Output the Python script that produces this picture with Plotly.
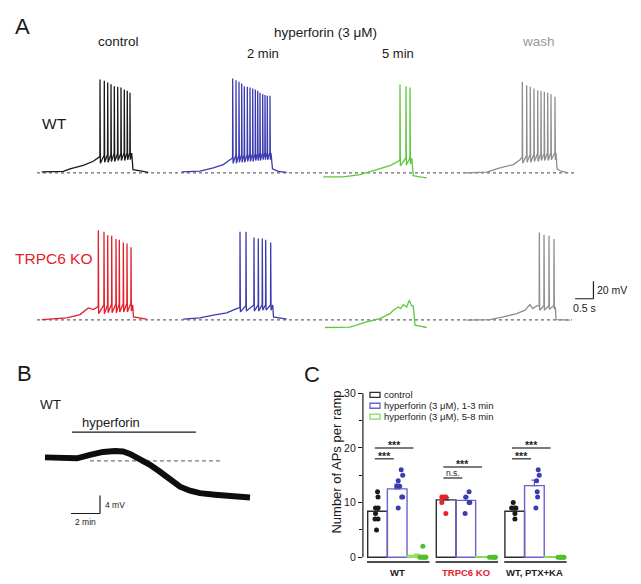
import plotly.graph_objects as go

W, H = 641, 584          # target picture size (px)
OX, OY = 8, 8            # page body margin in the browser
FW, FH = W - OX, H - OY  # figure size so the figure exactly fills the window
FONT = "Liberation Sans, Arial, sans-serif"

# ===================== DATA =====================
# ---- Panel A: ramp-evoked firing (time in s from sweep start, Vm in mV) ----
wt_ctrl_pre_t = [0.046, 0.635, 0.817, 1.180, 1.452, 1.616]
wt_ctrl_pre_v = [-68.9, -68.3, -65.5, -61.5, -56.8, -51.9]
wt_ctrl_spk_t = [1.635, 1.752, 1.845, 1.935, 2.025, 2.117, 2.207, 2.297, 2.378, 2.452]
wt_ctrl_spk_peak = [36.2, 34.7, 32.8, 30.9, 28.6, 28.0, 27.2, 24.9, 23.4, 21.2]
wt_ctrl_spk_thr = [-51.5, -50, -49, -49, -48, -48, -48, -47, -47, -47]
wt_ctrl_spk_ahp = [-59, -58, -58, -57, -57, -56, -56, -56, -55, -55]
wt_ctrl_post_t = [2.499, 2.534, 2.771, 2.951]
wt_ctrl_post_v = [-47.4, -66.3, -68.1, -69.4]

wt_h2_pre_t = [0.019, 0.518, 0.880, 1.153, 1.335]
wt_h2_pre_v = [-68.9, -68.1, -64.4, -60.6, -55.0]
wt_h2_spk_t = [1.409, 1.499, 1.580, 1.654, 1.725, 1.807, 1.880, 1.954, 2.025, 2.090,
               2.153, 2.226, 2.289, 2.351, 2.425]
wt_h2_spk_peak = [37.3, 35.4, 33.6, 31.7, 28.6, 28.0, 27.2, 26.0, 24.9, 23.4,
                  21.2, 19.6, 18.5, 17.8, 17.8]
wt_h2_spk_thr = [-53, -50, -50, -49, -49, -49, -48, -48, -48, -48, -47, -47, -47, -47, -47]
wt_h2_spk_ahp = [-59, -59, -58, -58, -58, -57, -57, -57, -56, -56, -56, -55, -55, -55, -55]
wt_h2_post_t = [2.452, 2.493, 2.651, 2.880]
wt_h2_post_v = [-47.4, -65.5, -68.3, -69.4]

wt_h5_pre_t = [0.008, 0.553, 1.008, 1.463, 1.826, 2.052]
wt_h5_pre_v = [-74.5, -74.5, -71.9, -66.3, -61.8, -56.8]
wt_h5_spk_t = [2.098, 2.262, 2.371]
wt_h5_spk_peak = [30.6, 28.6, 27.2]
wt_h5_spk_thr = [-55, -53, -53]
wt_h5_spk_ahp = [-62, -61, -60]
wt_h5_post_t = [2.417, 2.460, 2.643, 2.826]
wt_h5_post_v = [-53.1, -73.1, -74.5, -75.6]

wt_wash_pre_t = [0.0, 0.591, 0.954, 1.316, 1.499]
wt_wash_pre_v = [-70.0, -69.2, -64.4, -60.6, -55.0]
wt_wash_spk_t = [1.562, 1.681, 1.779, 1.880, 1.981, 2.071, 2.161, 2.253, 2.343, 2.452]
wt_wash_spk_peak = [33.6, 29.8, 28.0, 26.0, 24.1, 23.4, 22.3, 21.2, 19.6, 16.7]
wt_wash_spk_thr = [-52, -50, -49, -49, -48, -48, -48, -47, -47, -47]
wt_wash_spk_ahp = [-59, -58, -58, -57, -57, -56, -56, -56, -55, -55]
wt_wash_post_t = [2.480, 2.507, 2.616, 2.815]
wt_wash_post_v = [-47.4, -65.5, -68.1, -70.0]

ko_ctrl_pre_t = [0.046, 0.728, 1.090, 1.316, 1.452, 1.572]
ko_ctrl_pre_v = [-69.7, -67.7, -64.0, -56.4, -58.4, -55.3]
ko_ctrl_spk_t = [1.589, 1.744, 1.845, 1.954, 2.071, 2.161, 2.270, 2.371, 2.480]
ko_ctrl_spk_peak = [32.0, 30.2, 26.4, 25.7, 21.9, 21.2, 18.1, 17.0, 12.5]
ko_ctrl_spk_thr = [-55, -53, -53, -52, -52, -52, -52, -51, -51]
ko_ctrl_spk_ahp = [-63, -63, -62, -62, -62, -61, -61, -61, -60]
ko_ctrl_post_t = [2.526, 2.548, 2.907]
ko_ctrl_post_v = [-53.1, -66.6, -69.2]

ko_h2_pre_t = [0.063, 0.518, 0.880, 1.245, 1.518]
ko_h2_pre_v = [-69.2, -67.7, -64.7, -62.1, -57.2]
ko_h2_spk_t = [1.608, 1.771, 1.989, 2.106, 2.215, 2.308, 2.444]
ko_h2_spk_peak = [30.2, 30.2, 23.8, 22.7, 22.7, 21.2, 18.1]
ko_h2_spk_thr = [-56, -54, -53, -53, -53, -53, -53]
ko_h2_spk_ahp = [-61, -60, -60, -60, -59, -59, -59]
ko_h2_post_t = [2.499, 2.520, 2.880]
ko_h2_post_v = [-53.1, -66.6, -69.2]

ko_h5_pre_t = [0.054, 0.736, 1.191, 1.553, 1.826, 1.916, 2.052, 2.117, 2.188, 2.281,
               2.352, 2.417, 2.460, 2.507, 2.643, 2.826]
ko_h5_pre_v = [-78.7, -78.2, -72.3, -68.5, -62.9, -59.0, -55.3, -57.2, -52.7, -55.3,
               -47.7, -54.2, -54.2, -76.0, -77.1, -78.7]

ko_wash_pre_t = [0.046, 0.681, 1.044, 1.409, 1.635, 1.771, 1.845, 1.954]
ko_wash_pre_v = [-70.3, -69.7, -66.6, -62.9, -59.0, -52.7, -57.2, -54.2]
ko_wash_spk_t = [2.025, 2.153, 2.289, 2.425]
ko_wash_spk_peak = [29.4, 26.8, 25.7, 21.9]
ko_wash_spk_thr = [-54, -54, -54, -54]
ko_wash_spk_ahp = [-59, -59, -58, -58]
ko_wash_post_t = [2.461, 2.480, 2.861]
ko_wash_post_v = [-55.3, -69.7, -70.3]

a_rest_mv = -70.0

# ---- Panel B: slow Vm recording (time in min, Vm in mV) ----
b_t = [0.0, 1.034, 2.207, 3.103, 4.0, 4.828, 5.379, 5.862, 6.552, 7.241, 7.931,
       8.828, 9.310, 10.0, 10.690, 11.724, 12.966, 14.138]
b_v = [-59.22, -59.44, -59.44, -58.67, -58.0, -57.78, -57.89, -58.44, -59.56, -60.89,
       -62.44, -64.44, -65.78, -66.67, -67.22, -67.56, -67.89, -68.22]
b_hyperforin_min = [1.86, 10.41]
b_baseline_mv = -60.0
b_baseline_span = [3.10, 12.21]

# ---- Panel C: number of APs per ramp ----
c_groups = ["WT", "TRPC6 KO", "WT, PTX+KA"]
c_conditions = ["control", "hyperforin (3 \u03bcM), 1-3 min", "hyperforin (3 \u03bcM), 5-8 min"]
c_mean_ctrl = [8.4, 10.5, 8.4]
c_mean_h13 = [12.5, 10.4, 13.1]
c_mean_h58 = [0.3, 0.1, 0.1]
c_sem_ctrl = [0.8, 0.4, 0.45]
c_sem_h13 = [0.9, 0.6, 1.0]
c_sem_h58 = [0.25, 0.0, 0.0]

dots_ctrl_wt = [12, 11, 9, 9, 8, 7, 7, 5]
dots_h13_wt = [16, 15, 14, 13, 13, 11, 11, 9]
dots_h58_wt = [2, 0, 0, 0, 0, 0]
dots_ctrl_ko = [11, 11, 11, 10, 8]
dots_h13_ko = [12, 11, 10, 10, 8]
dots_h58_ko = [0, 0, 0, 0, 0]
dots_ctrl_ptx = [10, 9, 9, 9, 8, 7]
dots_h13_ptx = [16, 15, 14, 12, 11, 9]
dots_h58_ptx = [0, 0, 0, 0, 0, 0]

sig_group = [0, 0, 1, 1, 2, 2]
sig_to = [1, 2, 1, 2, 1, 2]
sig_y = [18, 20, 14.5, 16.5, 18, 20]
sig_label = ["***", "***", "n.s.", "***", "***", "***"]

# ===================== STYLE / LAYOUT =====================
BLACK = "#1a1a1a"
BLUE_A = "#3b3bb0"
GREEN_A = "#5cc83a"
GRAY_A = "#8e8e8e"
RED_A = "#e41e2b"
C_CTRL = "#2e2e2e"
C_BLUE = "#6a60d4"
C_BLUE_DOT = "#3c3cb2"
C_GREEN = "#86da5c"
C_GREEN_DOT = "#52be2c"
C_RED = "#e8202a"

# jitter of the dots (horizontal pixel offsets, purely visual)
jit_ctrl_wt = [0, 0.5, -2, 0.5, -2, 0.5, -2.5, -1]
jit_h13_wt = [4, 5.5, 1, -0.5, 2.5, 5.5, 4.5, 1]
jit_h58_wt = [6, 3, 5, 7, 8, 9]
jit_ctrl_ko = [-4.3, -2, -0.3, -4.3, -0.3]
jit_h13_ko = [3.3, 0, 3.3, 4, -0.7]
jit_h58_ko = [4, 6, 8, 9, 10]
jit_ctrl_ptx = [-1.5, -0.8, -3.1, 1.2, 0.2, 0.2]
jit_h13_ptx = [3.8, 4.8, 2.2, 2.8, 3.2, 1.5]
jit_h58_ptx = [4, 6, 7, 8, 9, 10]


def pxx(px):
    return (px - OX) / FW


def pxy(py):
    return 1 - (py - OY) / FH


def xdom(p0, p1):
    return [pxx(p0), pxx(p1)]


def ydom(top, bottom):
    return [pxy(bottom), pxy(top)]


fig = go.Figure()
shapes, anns = [], []


def ann(text, px, py, size, color="#1a1a1a", bold=False, **kw):
    d = dict(text=f"<b>{text}</b>" if bold else text, x=pxx(px), y=pxy(py),
             xref="paper", yref="paper", showarrow=False, xanchor="center",
             yanchor="middle", font=dict(size=size, color=color, family=FONT))
    d.update(kw)
    anns.append(d)


# ---------- Panel A axes ----------
A_PX_PER_S = 36.7
A_PX_PER_MV = 0.885
A_VRANGE = [-80, 45]
A_COL_LEFT = [40, 181, 323, 465]
A_COL_TMAX = [3.0, 3.0, 3.0, 3.6]
A_ROW_REST_PY = [170, 318]
layout_axes = {}
for i, (left, tmax) in enumerate(zip(A_COL_LEFT, A_COL_TMAX)):
    name = "xaxis" if i == 0 else f"xaxis{i + 1}"
    layout_axes[name] = dict(domain=xdom(left, left + tmax * A_PX_PER_S), range=[0, tmax],
                             visible=False, anchor="y")
for r, rest in enumerate(A_ROW_REST_PY):
    name = "yaxis" if r == 0 else "yaxis2"
    top = rest - (A_VRANGE[1] - a_rest_mv) * A_PX_PER_MV
    bot = rest + (a_rest_mv - A_VRANGE[0]) * A_PX_PER_MV
    layout_axes[name] = dict(domain=ydom(top, bot), range=A_VRANGE, visible=False, anchor="x")

UP, DOWN = 0.004, 0.010


def sweep(pre_t, pre_v, spk_t=(), peak=(), thr=(), ahp=(), post_t=(), post_v=()):
    t, v = list(pre_t), list(pre_v)
    for ts, pk, th, ah in zip(spk_t, peak, thr, ahp):
        t += [ts - UP, ts, ts + DOWN]
        v += [th, pk, ah]
    return t + list(post_t), v + list(post_v)


a_traces = [
    (0, 0, BLACK, sweep(wt_ctrl_pre_t, wt_ctrl_pre_v, wt_ctrl_spk_t, wt_ctrl_spk_peak,
                        wt_ctrl_spk_thr, wt_ctrl_spk_ahp, wt_ctrl_post_t, wt_ctrl_post_v)),
    (0, 1, BLUE_A, sweep(wt_h2_pre_t, wt_h2_pre_v, wt_h2_spk_t, wt_h2_spk_peak,
                         wt_h2_spk_thr, wt_h2_spk_ahp, wt_h2_post_t, wt_h2_post_v)),
    (0, 2, GREEN_A, sweep(wt_h5_pre_t, wt_h5_pre_v, wt_h5_spk_t, wt_h5_spk_peak,
                          wt_h5_spk_thr, wt_h5_spk_ahp, wt_h5_post_t, wt_h5_post_v)),
    (0, 3, GRAY_A, sweep(wt_wash_pre_t, wt_wash_pre_v, wt_wash_spk_t, wt_wash_spk_peak,
                         wt_wash_spk_thr, wt_wash_spk_ahp, wt_wash_post_t, wt_wash_post_v)),
    (1, 0, RED_A, sweep(ko_ctrl_pre_t, ko_ctrl_pre_v, ko_ctrl_spk_t, ko_ctrl_spk_peak,
                        ko_ctrl_spk_thr, ko_ctrl_spk_ahp, ko_ctrl_post_t, ko_ctrl_post_v)),
    (1, 1, BLUE_A, sweep(ko_h2_pre_t, ko_h2_pre_v, ko_h2_spk_t, ko_h2_spk_peak,
                         ko_h2_spk_thr, ko_h2_spk_ahp, ko_h2_post_t, ko_h2_post_v)),
    (1, 2, GREEN_A, sweep(ko_h5_pre_t, ko_h5_pre_v)),
    (1, 3, GRAY_A, sweep(ko_wash_pre_t, ko_wash_pre_v, ko_wash_spk_t, ko_wash_spk_peak,
                         ko_wash_spk_thr, ko_wash_spk_ahp, ko_wash_post_t, ko_wash_post_v)),
]

# dashed resting-potential reference lines (drawn under traces)
for r, x_end in zip([0, 1], [577, 572]):
    shapes.append(dict(type="line", xref="paper", yref="y" if r == 0 else "y2",
                       x0=pxx(37), x1=pxx(x_end), y0=a_rest_mv, y1=a_rest_mv, layer="below",
                       line=dict(color="#6a6a6a", width=1.1, dash="3px,3px")))

for r, c, color, (t, v) in a_traces:
    fig.add_trace(go.Scatter(x=t, y=v, mode="lines", line=dict(color=color, width=1.3),
                             xaxis="x" if c == 0 else f"x{c + 1}",
                             yaxis="y" if r == 0 else "y2", hoverinfo="skip"))

# scale bar A (20 mV / 0.5 s)
shapes.append(dict(type="line", xref="x4", yref="y2", x0=3.5, x1=3.5, y0=-46, y1=-26,
                   line=dict(color=BLACK, width=1.2)))
shapes.append(dict(type="line", xref="x4", yref="y2", x0=3.0, x1=3.5, y0=-46, y1=-46,
                   line=dict(color=BLACK, width=1.2)))
anns.append(dict(text="20 mV", x=3.5, y=-36, xref="x4", yref="y2", xanchor="left",
                 yanchor="middle", xshift=2, showarrow=False,
                 font=dict(size=10.5, color=BLACK, family=FONT)))
anns.append(dict(text="0.5 s", x=3.25, y=-46, xref="x4", yref="y2", xanchor="center",
                 yanchor="top", yshift=-1, showarrow=False,
                 font=dict(size=10.5, color=BLACK, family=FONT)))

ann("A", 23, 23, 22)
ann("control", 118.5, 38, 13.5)
ann("hyperforin (3 \u03bcM)", 325.5, 28.5, 13.5)
ann("2 min", 262.5, 50, 13)
ann("5 min", 398.5, 50, 13)
ann("wash", 538.5, 37.5, 13.5, color="#9a9a9a")
ann("WT", 55, 120.5, 15.5)
ann("TRPC6 KO", 54, 256.5, 15.5, color=RED_A)

# ---------- Panel B ----------
B_PX_PER_MIN = 14.5
B_PX_PER_MV = 4.5
B_T0_PX, B_V0_PY = 45, 460
b_left, b_right, b_top, b_bot = 40, 262, 425, 525
layout_axes["xaxis5"] = dict(domain=xdom(b_left, b_right),
                             range=[(b_left - B_T0_PX) / B_PX_PER_MIN, (b_right - B_T0_PX) / B_PX_PER_MIN],
                             visible=False, anchor="y3")
layout_axes["yaxis3"] = dict(domain=ydom(b_top, b_bot),
                             range=[b_baseline_mv - (b_bot - B_V0_PY) / B_PX_PER_MV,
                                    b_baseline_mv + (B_V0_PY - b_top) / B_PX_PER_MV],
                             visible=False, anchor="x5")
shapes.append(dict(type="line", xref="x5", yref="y3", x0=b_baseline_span[0], x1=b_baseline_span[1],
                   y0=b_baseline_mv, y1=b_baseline_mv, layer="below",
                   line=dict(color="#777777", width=1.1, dash="4px,3px")))
fig.add_trace(go.Scatter(x=b_t, y=b_v, mode="lines", line=dict(color="#0d0d0d", width=6),
                         xaxis="x5", yaxis="y3", hoverinfo="skip"))
# application bar
shapes.append(dict(type="line", xref="x5", yref="y3", x0=b_hyperforin_min[0], x1=b_hyperforin_min[1],
                   y0=-53.56, y1=-53.56, line=dict(color=BLACK, width=1.3)))
# scale bar B (4 mV / 2 min)
shapes.append(dict(type="line", xref="x5", yref="y3", x0=3.793, x1=3.793, y0=-71.78, y1=-67.78,
                   line=dict(color=BLACK, width=1.2)))
shapes.append(dict(type="line", xref="x5", yref="y3", x0=1.793, x1=3.793, y0=-71.78, y1=-71.78,
                   line=dict(color=BLACK, width=1.2)))
anns.append(dict(text="4 mV", x=3.793, y=-69.8, xref="x5", yref="y3", xanchor="left",
                 yanchor="middle", xshift=3, showarrow=False,
                 font=dict(size=8.5, color=BLACK, family=FONT)))
anns.append(dict(text="2 min", x=2.793, y=-71.78, xref="x5", yref="y3", xanchor="center",
                 yanchor="top", yshift=-1, showarrow=False,
                 font=dict(size=8.5, color=BLACK, family=FONT)))
ann("B", 24.5, 372.5, 22)
ann("WT", 50.5, 403.5, 13.5)
ann("hyperforin", 111.3, 421.5, 13)

# ---------- Panel C ----------
C_BARGAP = 0.14
C_BW = (1 - C_BARGAP) / 3
C_OFF = [-C_BW, 0.0, C_BW]
C_X_LEFT, C_X_RIGHT = 362.9, 568.7
C_PX_PER_X = (C_X_RIGHT - C_X_LEFT) / 3.0
C_ZERO_PY, C_PX_PER_UNIT = 557, 5.5
C_YR = [-1.3, 30.5]
layout_axes["xaxis6"] = dict(domain=xdom(C_X_LEFT, C_X_RIGHT), range=[-0.5, 2.5], visible=False,
                             anchor="y4")
layout_axes["yaxis4"] = dict(domain=ydom(C_ZERO_PY - C_YR[1] * C_PX_PER_UNIT,
                                         C_ZERO_PY - C_YR[0] * C_PX_PER_UNIT),
                             range=C_YR, anchor="x6", showline=False, showgrid=False,
                             zeroline=False, ticks="outside", ticklen=4, tickwidth=1,
                             tickcolor=BLACK, tickvals=[0, 10, 20, 30],
                             minor=dict(tickvals=[5, 15, 25], ticks="outside", ticklen=3,
                                        tickwidth=1, tickcolor=BLACK),
                             tickfont=dict(size=10.5, color=BLACK, family=FONT))
# y-axis line
shapes.append(dict(type="line", xref="paper", yref="y4", x0=pxx(C_X_LEFT), x1=pxx(C_X_LEFT),
                   y0=0, y1=30, line=dict(color=BLACK, width=1.2)))

bar_specs = [(c_mean_ctrl, c_sem_ctrl, C_CTRL), (c_mean_h13, c_sem_h13, C_BLUE),
             (c_mean_h58, c_sem_h58, C_GREEN)]
for means, sems, col in bar_specs:
    fig.add_trace(go.Bar(x=[0, 1, 2], y=means, xaxis="x6", yaxis="y4",
                         marker=dict(color="rgba(255,255,255,0)", line=dict(color=col, width=1.4)),
                         error_y=dict(type="data", array=sems, arrayminus=[0, 0, 0], symmetric=False,
                                      color=col, thickness=1.2, width=3),
                         hoverinfo="skip"))

dot_sets = [
    (0, 0, dots_ctrl_wt, jit_ctrl_wt, BLACK), (0, 1, dots_h13_wt, jit_h13_wt, C_BLUE_DOT),
    (0, 2, dots_h58_wt, jit_h58_wt, C_GREEN_DOT),
    (1, 0, dots_ctrl_ko, jit_ctrl_ko, C_RED), (1, 1, dots_h13_ko, jit_h13_ko, C_BLUE_DOT),
    (1, 2, dots_h58_ko, jit_h58_ko, C_GREEN_DOT),
    (2, 0, dots_ctrl_ptx, jit_ctrl_ptx, BLACK), (2, 1, dots_h13_ptx, jit_h13_ptx, C_BLUE_DOT),
    (2, 2, dots_h58_ptx, jit_h58_ptx, C_GREEN_DOT),
]
for g, c, vals, jit, col in dot_sets:
    xs = [g + C_OFF[c] + j / C_PX_PER_X for j in jit]
    fig.add_trace(go.Scatter(x=xs, y=vals, mode="markers", xaxis="x6", yaxis="y4",
                             marker=dict(size=5, color=col, line=dict(width=0)),
                             cliponaxis=False, hoverinfo="skip"))

# group baselines and labels
for g, name in enumerate(c_groups):
    shapes.append(dict(type="line", xref="x6", yref="y4", x0=g - 0.44, x1=g + 0.47,
                       y0=-0.9, y1=-0.9, line=dict(color="#4d4d4d", width=2)))
    anns.append(dict(text=f"<b>{name}</b>", x=g, y=pxy(572), xref="x6", yref="paper",
                     showarrow=False, xanchor="center", yanchor="middle",
                     font=dict(size=9.5, family=FONT, color=C_RED if name == "TRPC6 KO" else BLACK)))

# significance
for g, to, yv, lab in zip(sig_group, sig_to, sig_y, sig_label):
    x0 = g + C_OFF[0] - 0.04
    x1 = g + C_OFF[to] - 0.05
    shapes.append(dict(type="line", xref="x6", yref="y4", x0=x0, x1=x1, y0=yv, y1=yv,
                       line=dict(color="#505050", width=1.5)))
    is_star = lab == "***"
    anns.append(dict(text="<b>***</b>" if is_star else lab, x=(x0 + x1) / 2, y=yv,
                     xref="x6", yref="y4", showarrow=False,
                     xanchor="center", yanchor="bottom", yshift=-5 if is_star else -2,
                     font=dict(size=10.5 if is_star else 8.5, family=FONT, color="#222222")))

# legend (drawn manually)
leg_cols = [C_CTRL, C_BLUE, C_GREEN]
for i, (lab, col) in enumerate(zip(c_conditions, leg_cols)):
    cy = 393.5 + i * 11
    shapes.append(dict(type="rect", xref="paper", yref="paper", x0=pxx(370), x1=pxx(380),
                       y0=pxy(cy + 2.5), y1=pxy(cy - 2.5),
                       line=dict(color=col, width=1.3), fillcolor="white"))
    ann(lab, 381.5, cy, 9.5, xanchor="left")

ann("C", 312, 373, 22)
ann("Number of APs per ramp", 336.7, 461, 13, textangle=-90)

fig.update_layout(width=FW, height=FH, margin=dict(l=0, r=0, t=0, b=0),
                  paper_bgcolor="white", plot_bgcolor="rgba(0,0,0,0)",
                  showlegend=False, barmode="group", bargap=C_BARGAP, bargroupgap=0,
                  font=dict(family=FONT), shapes=shapes, annotations=anns, **layout_axes)

fig.write_html("out.html")
